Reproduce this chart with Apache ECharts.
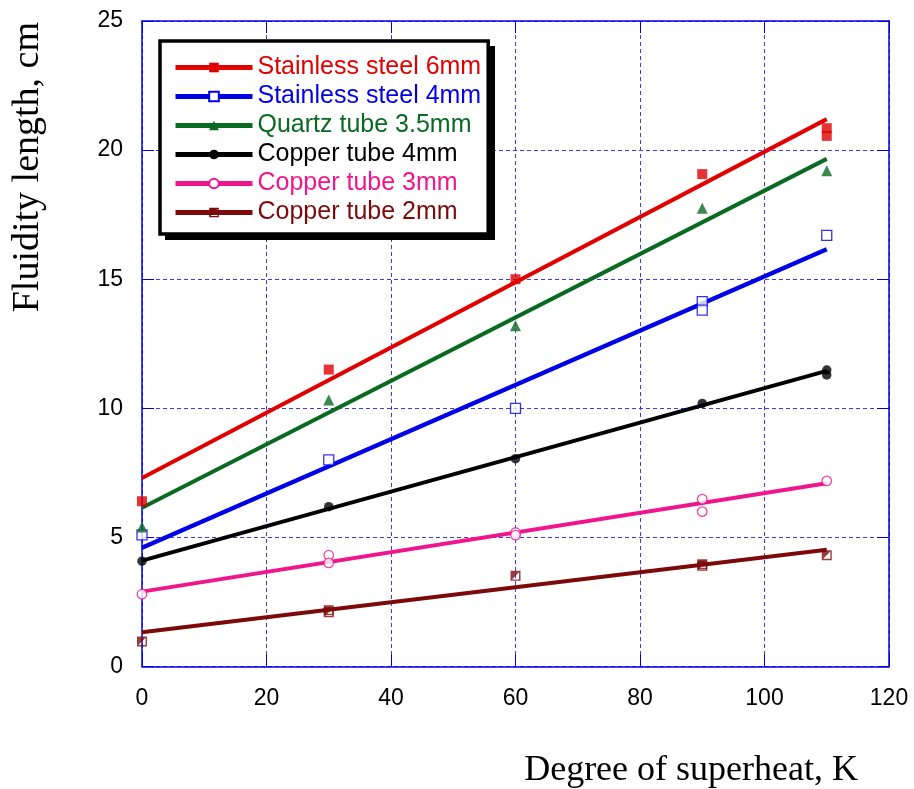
<!DOCTYPE html>
<html>
<head>
<meta charset="utf-8">
<title>Fluidity length vs. degree of superheat</title>
<script src="https://cdn.jsdelivr.net/npm/echarts@6/dist/echarts.min.js"></script>
<style>
  html, body { margin: 0; padding: 0; background: #fff; }
  #chart { width: 914px; height: 789px; }
</style>
</head>
<body>
<div id="chart"></div>
<script>
// Measured fluidity length (cm) against degree of superheat (K)
const seriesNames = [
  'Stainless steel 6mm',
  'Stainless steel 4mm',
  'Quartz tube 3.5mm',
  'Copper tube 4mm',
  'Copper tube 3mm',
  'Copper tube 2mm'
];

const ss6X = [0, 30, 60, 90, 110, 110];
const ss6Y = [6.4, 11.5, 15.0, 19.07, 20.85, 20.55];

const ss4X = [0, 30, 60, 90, 90, 110];
const ss4Y = [5.1, 8.0, 10.0, 14.13, 13.8, 16.7];

const quartzX = [0, 30, 60, 90, 110];
const quartzY = [5.4, 10.32, 13.2, 17.75, 19.2];

const cu4X = [0, 30, 60, 90, 110, 110];
const cu4Y = [4.08, 6.19, 8.05, 10.19, 11.48, 11.29];

const cu3X = [0, 30, 30, 60, 60, 90, 90, 110];
const cu3Y = [2.8, 4.31, 4.01, 5.19, 5.09, 6.48, 6.0, 7.19];

const cu2X = [0, 30, 30, 60, 90, 90, 110];
const cu2Y = [0.97, 2.18, 2.1, 3.51, 3.96, 3.9, 4.31];

// Linear trend lines: value at the first and last superheat
const fitX = [0, 110];
const fitStart = [7.3, 4.6, 6.15, 4.1, 2.9, 1.33];
const fitEnd = [21.2, 16.16, 19.66, 11.45, 7.1, 4.52];

const pointXs = [ss6X, ss4X, quartzX, cu4X, cu3X, cu2X];
const pointYs = [ss6Y, ss4Y, quartzY, cu4Y, cu3Y, cu2Y];

// Styling
const colors = ['#e00000', '#0000e6', '#0b6a22', '#000000', '#f0158c', '#7d0a0a'];
// square outline with the upper-left half filled
const halfSquare = 'path://M0,0H10V10H0Z M1.4,1.4V8.6H8.6V1.4Z M1.4,1.4H8.6L1.4,8.6Z';
const legendSymbols = ['rect', 'emptyRect', 'triangle', 'circle', 'emptyCircle', halfSquare];
const axisBlue = '#0000dd';
const gridBlue = '#3a3ae6';

const series = [];
seriesNames.forEach((name, i) => {
  series.push({
    name: name,
    type: 'line',
    data: fitX.map((x, k) => [x, k === 0 ? fitStart[i] : fitEnd[i]]),
    symbol: legendSymbols[i],
    showSymbol: false,
    lineStyle: { color: colors[i], width: i === 1 ? 4.5 : 4 },
    itemStyle: { color: colors[i] },
    silent: true,
    z: 2
  });
});
seriesNames.forEach((name, i) => {
  let symbol = 'rect', size = 10, itemStyle = { color: colors[i] };
  if (i === 1) { symbol = 'rect'; size = 10; itemStyle = { color: '#fff', borderColor: colors[i], borderWidth: 1.3 }; }
  if (i === 2) { symbol = 'triangle'; size = 11; }
  if (i === 3) { symbol = 'circle'; size = 9.5; }
  if (i === 4) { symbol = 'circle'; size = 9.5; itemStyle = { color: '#fff', borderColor: colors[i], borderWidth: 1.3 }; }
  if (i === 5) { symbol = halfSquare; size = 10; }
  series.push({
    name: name,
    type: 'scatter',
    data: pointXs[i].map((x, k) => [x, pointYs[i][k]]),
    symbol: symbol,
    symbolSize: size,
    itemStyle: itemStyle,
    z: 3
  });
});

const labelFont = 'Liberation Sans, Arial, sans-serif';
const titleFont = 'Liberation Serif, Times New Roman, serif';

const option = {
  backgroundColor: '#fff',
  animation: false,
  grid: { left: 142, right: 25, top: 21, bottom: 122.5, outerBoundsMode: 'none', containLabel: false },
  // offset drop shadow behind the legend box
  graphic: [{
    type: 'rect',
    shape: { x: 165, y: 46, width: 330, height: 194 },
    style: { fill: '#000' },
    z: 3,
    silent: true
  }],
  legend: {
    orient: 'vertical',
    left: 160,
    top: 41,
    padding: [14, 7, 9, 13],
    itemGap: 4,
    itemWidth: 77,
    itemHeight: 12,
    backgroundColor: '#fff',
    borderColor: '#000',
    borderWidth: 3.5,
    borderRadius: 0,
    z: 5,
    selectedMode: false,
    lineStyle: { width: 5 },
    textStyle: { fontFamily: labelFont, fontSize: 25, lineHeight: 25 },
    data: seriesNames.map((n, i) => ({ name: n, textStyle: { color: colors[i] } }))
  },
  xAxis: [
    {
      type: 'value', min: 0, max: 120, interval: 20, position: 'bottom',
      name: 'Degree of superheat, K',
      nameLocation: 'end',
      nameGap: -31,
      nameMoveOverlap: false,
      nameTextStyle: { fontFamily: titleFont, fontSize: 36, color: '#000', align: 'right', verticalAlign: 'top', padding: [86, 0, 0, 0] },
      axisLine: { show: true, onZero: false, lineStyle: { color: axisBlue, width: 1.5 } },
      axisTick: { show: true, inside: true, length: 12, lineStyle: { color: axisBlue, width: 1 } },
      axisLabel: { margin: 21, fontFamily: labelFont, fontSize: 23, color: '#000' },
      splitLine: { show: true, lineStyle: { color: gridBlue, width: 1, type: [4, 3] } }
    },
    {
      type: 'value', min: 0, max: 120, interval: 20, position: 'top',
      axisLine: { show: true, onZero: false, lineStyle: { color: axisBlue, width: 1.5 } },
      axisTick: { show: true, inside: true, length: 12, lineStyle: { color: axisBlue, width: 1 } },
      axisLabel: { show: false },
      splitLine: { show: false }
    }
  ],
  yAxis: [
    {
      type: 'value', min: 0, max: 25, interval: 5, position: 'left',
      name: 'Fluidity length, cm',
      nameLocation: 'end',
      nameGap: -1,
      nameRotate: 90,
      nameMoveOverlap: false,
      nameTextStyle: { fontFamily: titleFont, fontSize: 38, color: '#000', align: 'right', verticalAlign: 'bottom', padding: [0, 0, 95, 0] },
      axisLine: { show: true, onZero: false, lineStyle: { color: axisBlue, width: 1.5 } },
      axisTick: { show: true, inside: true, length: 12, lineStyle: { color: axisBlue, width: 1 } },
      axisLabel: { margin: 19, fontFamily: labelFont, fontSize: 23, color: '#000' },
      splitLine: { show: true, lineStyle: { color: gridBlue, width: 1, type: [4, 3] } }
    },
    {
      type: 'value', min: 0, max: 25, interval: 5, position: 'right',
      axisLine: { show: true, onZero: false, lineStyle: { color: axisBlue, width: 1.5 } },
      axisTick: { show: true, inside: true, length: 12, lineStyle: { color: axisBlue, width: 1 } },
      axisLabel: { show: false },
      splitLine: { show: false }
    }
  ],
  series: series
};

const chart = echarts.init(document.getElementById('chart'), null, { renderer: 'canvas' });
chart.setOption(option);
</script>
</body>
</html>
